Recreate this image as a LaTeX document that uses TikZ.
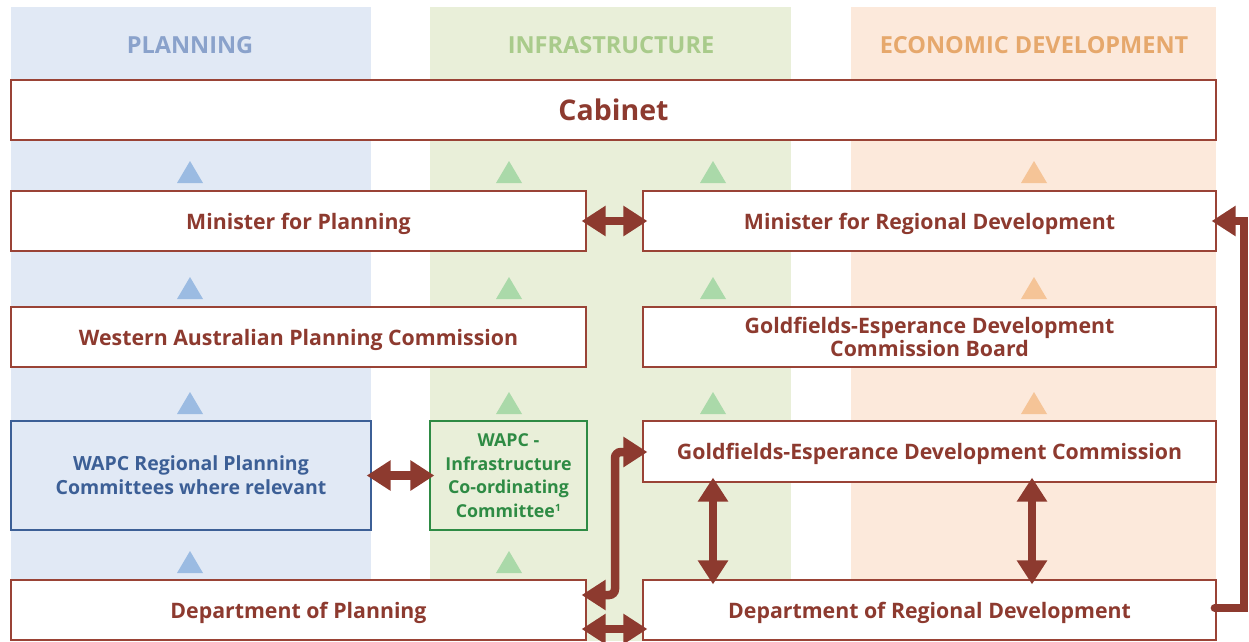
\documentclass[tikz,border=0pt]{standalone}
\usepackage{fontspec}
\setmainfont{Open Sans}
\usetikzlibrary{arrows.meta}
\definecolor{dred}{HTML}{8D3A2F}
\definecolor{bordred}{HTML}{9A4336}
\definecolor{bgblue}{HTML}{E1E9F5}
\definecolor{bggreen}{HTML}{E9EFD9}
\definecolor{bgpeach}{HTML}{FCE9DB}
\definecolor{hdblue}{HTML}{8AA2CB}
\definecolor{hdgreen}{HTML}{A9CB8B}
\definecolor{hdpeach}{HTML}{E6A86C}
\definecolor{trblue}{HTML}{9BBBE2}
\definecolor{trgreen}{HTML}{AAD9A9}
\definecolor{trpeach}{HTML}{F5C497}
\definecolor{bxblue}{HTML}{3C5F96}
\definecolor{bxgreen}{HTML}{2E8B44}
\newcommand\uptri[3]{\fill[#3] ({#1-13},{#2+11}) -- ({#1+13},{#2+11}) -- (#1,{#2-11}) -- cycle;}
\begin{document}
\begin{tikzpicture}[x=1pt,y=-1pt,
  rbox/.style={draw=bordred,line width=1.3pt,fill=white,text=dred,text depth=0pt,
    font=\fontsize{21.3}{24}\selectfont\bfseries,align=center,inner sep=2pt},
  hdr/.style={font=\fontsize{23.5}{27}\selectfont\bfseries,text depth=0pt},
  bigarrow/.style={draw=dred,line width=8.5pt,shorten <=-5pt,shorten >=-5pt,
    {Triangle[length=24pt,width=29pt]}-{Triangle[length=24pt,width=29pt]}},
  onearrow/.style={draw=dred,line width=8pt,line cap=round,shorten >=-5pt,
    -{Triangle[length=24pt,width=29pt]}}
]
\useasboundingbox (0,0) rectangle (1249,641);
% column backgrounds
\fill[bgblue] (11,7) rectangle (371,641);
\fill[bggreen] (430,7) rectangle (791,641);
\fill[bgpeach] (851,7) rectangle (1216,641);
% headers
\node[hdr,text=hdblue] (h1) at (190,45) {PLANNING};
\node[hdr,text=hdgreen] (h2) at (611,45) {INFRASTRUCTURE};
\node[hdr,text=hdpeach] (h3) at (1034,45) {ECONOMIC DEVELOPMENT};
% triangles
\foreach \yy in {172,288,403}{
  \uptri{190}{\yy}{trblue}
  \uptri{509}{\yy}{trgreen}
  \uptri{713}{\yy}{trgreen}
  \uptri{1034}{\yy}{trpeach}
}
\uptri{190}{562}{trblue}
\uptri{509}{562}{trgreen}
% boxes
\node[rbox,minimum width=1205pt,minimum height=60pt,font=\fontsize{28.5}{32}\selectfont\bfseries] (cab) at (613.5,110) {Cabinet};
\node[rbox,minimum width=575pt,minimum height=60pt] (mp) at (298.5,221) {Minister for Planning};
\node[rbox,minimum width=573pt,minimum height=60pt] (mrd) at (929.5,221) {Minister for Regional Development};
\node[rbox,minimum width=575pt,minimum height=60pt] (wapc) at (298.5,337) {Western Australian Planning Commission};
\node[rbox,minimum width=573pt,minimum height=60pt,font=\fontsize{21.3}{22.5}\selectfont\bfseries] (gedcb) at (929.5,337) {Goldfields-Esperance Development\\Commission Board};
\node[rbox,draw=bxblue,fill=bgblue,text=bxblue,minimum width=360pt,minimum height=109pt,font=\fontsize{19.5}{24}\selectfont\bfseries] (rpc) at (191,475.5) {WAPC Regional Planning\\Committees where relevant};
\node[rbox,draw=bxgreen,fill=bggreen,text=bxgreen,minimum width=157pt,minimum height=109pt,font=\fontsize{17.8}{23.6}\selectfont\bfseries] (icc) at (508.5,475.5) {WAPC -\\Infrastructure\\Co-ordinating\\Committee\textsuperscript{\fontsize{10}{10}\selectfont 1}};
\node[rbox,minimum width=573pt,minimum height=61pt] (gedc) at (929.5,451.5) {Goldfields-Esperance Development Commission};
\node[rbox,minimum width=575pt,minimum height=60pt] (dop) at (298.5,610) {Department of Planning};
\node[rbox,minimum width=573pt,minimum height=60pt] (drd) at (929.5,610) {Department of Regional Development};
% arrows
\draw[bigarrow] (mp.east) -- (mrd.west);
\draw[bigarrow] (rpc.east) -- (icc.west);
\coordinate (jl) at (615,595);
\coordinate (ju) at (615,452);
\draw[bigarrow,rounded corners=6pt] (jl -| dop.east) -- (jl) -- (ju) -- (ju -| gedc.west);
\coordinate (bl) at (615,629);
\draw[bigarrow] (bl -| dop.east) -- (bl -| drd.west);
\coordinate (va) at (713,0);
\coordinate (vb) at (1032,0);
\draw[bigarrow] (va |- gedc.south) -- (va |- drd.north);
\draw[bigarrow] (vb |- gedc.south) -- (vb |- drd.north);
\coordinate (rl) at (1244,608);
\coordinate (ru) at (1244,221);
\draw[onearrow] ([xshift=-2pt]rl -| drd.east) -- (rl) -- (ru) -- (ru -| mrd.east);
\end{tikzpicture}
\end{document}
